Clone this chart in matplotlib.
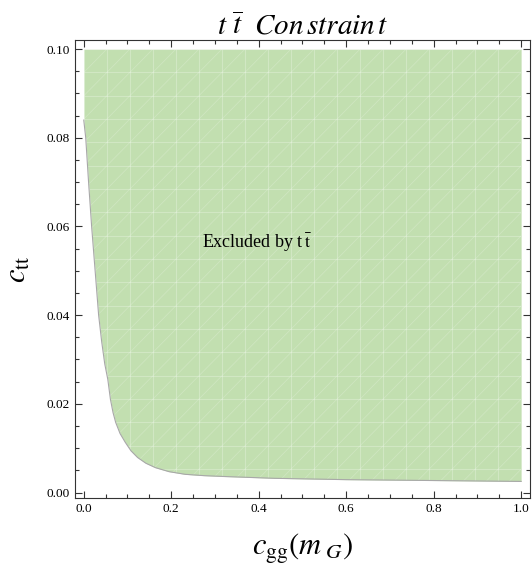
import numpy as np
import matplotlib
matplotlib.use("Agg")
from matplotlib import pyplot as plt
from matplotlib.ticker import MultipleLocator
from matplotlib.collections import LineCollection

plt.rcParams['font.family'] = ['Liberation Serif', 'DejaVu Serif']
plt.rcParams['mathtext.fontset'] = 'stix'

# boundary of the excluded region
c_gg = [0.0, 0.0045, 0.011, 0.018, 0.026, 0.034, 0.041, 0.048, 0.055,
        0.061, 0.067, 0.073, 0.083, 0.095, 0.108, 0.123, 0.142, 0.164,
        0.195, 0.232, 0.275, 0.323, 0.436, 0.6, 0.8, 1.0]
c_tt = [0.084, 0.080, 0.070, 0.060, 0.050, 0.040, 0.034, 0.029, 0.0255,
        0.021, 0.018, 0.0158, 0.0133, 0.0113, 0.0094, 0.0079, 0.0066, 0.0056,
        0.0047, 0.0041, 0.0038, 0.0036, 0.0032, 0.0029, 0.0027, 0.0025]
c_tt_max = 0.1

x_ticks = [0.0, 0.2, 0.4, 0.6, 0.8, 1.0]
y_ticks = [0.00, 0.02, 0.04, 0.06, 0.08, 0.10]

fill_color = '#c2dfb0'

fig = plt.figure(figsize=(5.32, 5.67), dpi=100)
ax = fig.add_axes([0.141, 0.122, 0.855, 0.807])

region = ax.fill_between(c_gg, c_tt, c_tt_max, color=fill_color, linewidth=0)

# faint mesh lines like the region plot's triangulation
n = 19
dx = 1.0 / n
dy = c_tt_max / n
segs = []
for i in range(n + 1):
    segs.append([(i * dx, 0), (i * dx, c_tt_max)])
    segs.append([(0, i * dy), (1.0, i * dy)])
diag = []
for k in range(-n, n + 1):
    diag.append([(k * dx, 0), ((k + n) * dx, c_tt_max)])
clip = region.get_paths()[0]
mesh = LineCollection(segs, colors='white', linewidths=0.8, alpha=0.25)
mesh2 = LineCollection(diag, colors='white', linewidths=0.6, alpha=0.2)
for m in (mesh, mesh2):
    ax.add_collection(m)
    m.set_clip_path(clip, ax.transData)

ax.plot(c_gg, c_tt, color='#a8a8a8', linewidth=0.8)

ax.text(0.395, 0.0563, r'Excluded by t$\,\bar{\mathrm{t}}$', fontsize=13,
        ha='center', va='center')

ax.set_xlim(-0.02, 1.02)
ax.set_ylim(-0.0012, 0.102)
ax.set_xticks(x_ticks)
ax.set_yticks(y_ticks)
ax.set_xticklabels(['%.1f' % v for v in x_ticks])
ax.set_yticklabels(['%.2f' % v for v in y_ticks])
ax.xaxis.set_minor_locator(MultipleLocator(0.05))
ax.yaxis.set_minor_locator(MultipleLocator(0.005))
ax.tick_params(which='both', direction='in', top=True, right=True,
               labelsize=9.5, color='#333333', width=0.8)
ax.tick_params(which='major', length=5)
ax.tick_params(which='minor', length=3)
for s in ax.spines.values():
    s.set_color('#333333')
    s.set_linewidth(0.8)

ax.set_title(r'$t\ \overline{t}\ \ Con\,strain\,t$', fontsize=21, pad=3)
ax.set_ylabel(r'$c_{\mathrm{tt}}$', fontsize=22, labelpad=10)
ax.set_xlabel(r'$c_{\mathrm{gg}}(m_{\ G})$', fontsize=22, labelpad=12)

fig.savefig('out.png', dpi=100)
